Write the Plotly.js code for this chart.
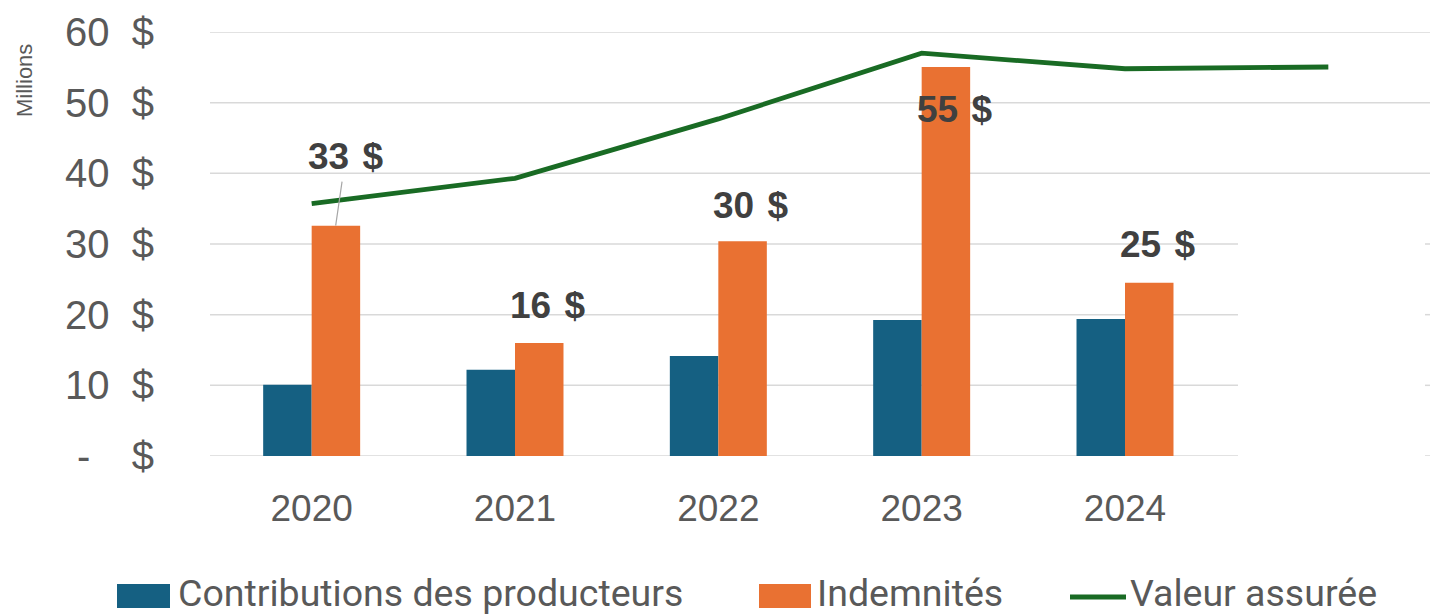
<!DOCTYPE html>
<html>
<head>
<meta charset="utf-8">
<script src="https://cdn.plot.ly/plotly-3.0.1.min.js"></script>
<style>html,body{margin:0;padding:0;background:#fff;}#chart{width:1430px;height:615px;}</style>
</head>
<body>
<div id="chart"></div>
<script>
// ---- data ----
var barYears = [2020, 2021, 2022, 2023, 2024];
var tickLabels = ['2020', '2021', '2022', '2023', '2024'];
var contributions = [10.1, 12.2, 14.15, 19.25, 19.4];
var indemnites = [32.6, 16.0, 30.4, 55.05, 24.5];
var lineYears = [2020, 2021, 2022, 2023, 2024, 2025];
var valeurAssuree = [35.7, 39.3, 47.7, 57.0, 54.8, 55.05];
var seriesNames = ['Contributions des producteurs', 'Indemnités', 'Valeur assurée'];
var yTicks = [0, 10, 20, 30, 40, 50, 60];

// ---- styling / layout helpers ----
var W = 1430, H = 615, L = 210, R = 0, T = 32, B = 159;
var PW = W - L - R, PH = H - T - B;
function px2x(px) { return (px - L) / PW; }
function py2y(py) { return (T + PH - py) / PH; }
var NB = '\u00A0';
var colBlue = '#156082', colOrange = '#E97132', colGreen = '#196B24', colGrid = '#D9D9D9';
var labelOffsets = [null, 37, 36, -43, 38]; // px above bar top (first uses leader line)

var traces = [
  {type: 'bar', x: barYears, y: contributions, name: seriesNames[0],
   marker: {color: colBlue}, hoverinfo: 'skip'},
  {type: 'bar', x: barYears, y: indemnites, name: seriesNames[1],
   marker: {color: colOrange}, hoverinfo: 'skip'},
  {type: 'scatter', mode: 'lines', x: lineYears, y: valeurAssuree, name: seriesNames[2],
   line: {color: colGreen, width: 4.8}, hoverinfo: 'skip'}
];

var annotations = [];
indemnites.forEach(function (v, i) {
  var txt = Math.round(v) + ' \u200A$';
  var a = {xref: 'x', yref: 'y', x: barYears[i], y: v, text: '<b>' + txt + '</b>',
    font: {family: 'Liberation Sans, Arial, sans-serif', size: 37, color: '#404040'}};
  if (labelOffsets[i] === null) {
    a.showarrow = true; a.arrowhead = 0; a.arrowwidth = 1.2; a.arrowcolor = '#A6A6A6';
    a.ax = 10; a.ay = -69; a.xshift = 24; a.borderpad = 4;
  } else {
    a.showarrow = false; a.xshift = 33; a.yshift = labelOffsets[i]; a.yanchor = 'middle';
  }
  annotations.push(a);
});
annotations.push({xref: 'paper', yref: 'paper', x: px2x(24), y: py2y(81), text: 'Millions',
  textangle: -90, showarrow: false, xanchor: 'center', yanchor: 'middle',
  font: {family: 'Liberation Sans, Arial, sans-serif', size: 22, color: '#595959'}});

var legendFont = {family: 'Roboto, Liberation Sans, sans-serif', size: 37.5, color: '#595959'};
var legendTextX = [176, 815, 1128];
seriesNames.forEach(function (n, i) {
  annotations.push({xref: 'paper', yref: 'paper', x: px2x(legendTextX[i]), y: py2y(593),
    xanchor: 'left', yanchor: 'middle', showarrow: false, text: n, font: legendFont});
});

var shapes = [];
// gridlines (the lower ones are interrupted on the right, as in the reference)
yTicks.forEach(function (v) {
  if (v >= 40) {
    shapes.push({type: 'line', xref: 'paper', yref: 'y', x0: 0, x1: 1, y0: v, y1: v,
      line: {color: colGrid, width: 1.5}, layer: 'below'});
  } else {
    shapes.push({type: 'line', xref: 'paper', yref: 'y', x0: 0, x1: px2x(1238), y0: v, y1: v,
      line: {color: colGrid, width: 1.5}, layer: 'below'});
    shapes.push({type: 'line', xref: 'paper', yref: 'y', x0: px2x(1425), x1: 1, y0: v, y1: v,
      line: {color: colGrid, width: 1.5}, layer: 'below'});
  }
});
shapes.push(
  {type: 'rect', xref: 'paper', yref: 'paper', x0: px2x(117), x1: px2x(170), y0: py2y(608), y1: py2y(584),
   fillcolor: colBlue, line: {width: 0}},
  {type: 'rect', xref: 'paper', yref: 'paper', x0: px2x(759), x1: px2x(811), y0: py2y(608), y1: py2y(584),
   fillcolor: colOrange, line: {width: 0}},
  {type: 'line', xref: 'paper', yref: 'paper', x0: px2x(1070), x1: px2x(1126), y0: py2y(597), y1: py2y(597),
   line: {color: colGreen, width: 5}}
);

var layout = {
  width: W, height: H,
  margin: {l: L, r: R, t: T, b: B, pad: 0},
  paper_bgcolor: '#ffffff', plot_bgcolor: '#ffffff',
  showlegend: false,
  barmode: 'group', bargap: 0.523, bargroupgap: 0,
  xaxis: {range: [2019.5, 2025.5], tickmode: 'array', tickvals: barYears, ticktext: tickLabels,
    showgrid: false, zeroline: false, showline: false, ticks: '', ticklabelstandoff: 27,
    tickfont: {family: 'Liberation Sans, Arial, sans-serif', size: 37, color: '#595959'}, fixedrange: true},
  yaxis: {range: [0, 60], tickmode: 'array', tickvals: yTicks,
    ticktext: yTicks.map(function (v) { return v === 0 ? '-' + NB + NB + NB + '\u2009$' : v + NB + NB + '$'; }),
    showgrid: false, zeroline: false, showline: false, ticks: '',
    ticklabelstandoff: 55,
    tickfont: {family: 'Liberation Sans, Arial, sans-serif', size: 40, color: '#595959'}, fixedrange: true},
  annotations: annotations,
  shapes: shapes
};

Plotly.newPlot('chart', traces, layout, {displayModeBar: false, staticPlot: true});
</script>
</body>
</html>
